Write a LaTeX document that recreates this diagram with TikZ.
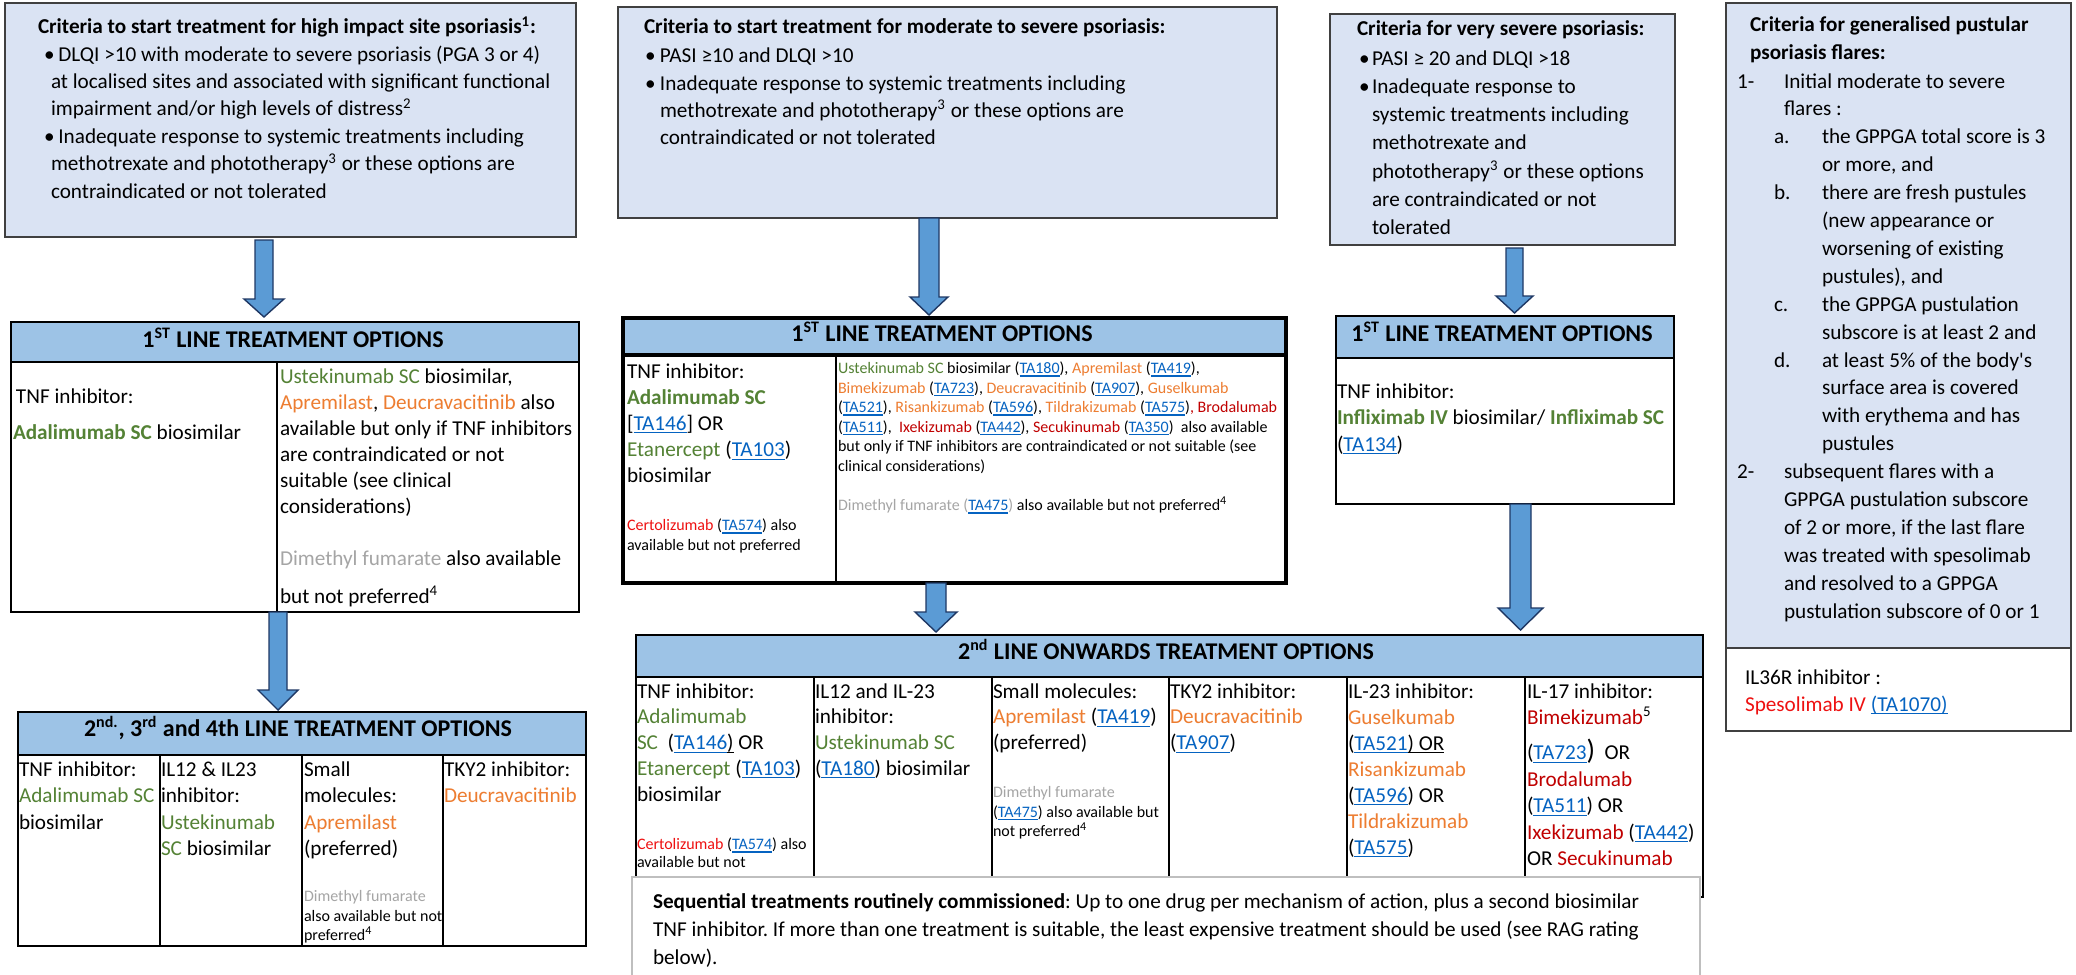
\documentclass[tikz,border=0pt]{standalone}
\usepackage{fontspec}
\setmainfont{Carlito}
\usetikzlibrary{calc}
\definecolor{critfill}{HTML}{DAE3F3}
\definecolor{critdraw}{HTML}{404040}
\definecolor{hdrfill}{HTML}{9DC3E6}
\definecolor{arrfill}{HTML}{5B9BD5}
\definecolor{arrdraw}{HTML}{1F3864}
\definecolor{cgreen}{HTML}{548235}
\definecolor{corange}{HTML}{ED7D31}
\definecolor{cred}{HTML}{C00000}
\definecolor{cbred}{HTML}{EE1111}
\definecolor{cgray}{HTML}{A5A5A5}
\definecolor{clink}{HTML}{0563C1}
\definecolor{seqdraw}{HTML}{BFBFBF}
\newcommand\myul[1]{\setbox0\hbox{#1}\rlap{\rule[-1.5pt]{\wd0}{0.55pt}}\box0\relax}
\newcommand\lnk[1]{{\color{clink}\myul{#1}}}
\newcommand\tgreen[1]{\textcolor{cgreen}{#1}}
\newcommand\tgreenb[1]{\textcolor{cgreen}{\bfseries #1}}
\newcommand\torange[1]{\textcolor{corange}{#1}}
\newcommand\tred[1]{\textcolor{cred}{#1}}
\newcommand\tbred[1]{\textcolor{cbred}{#1}}
\newcommand\tgray[1]{\textcolor{cgray}{#1}}
\newcommand\sups[1]{\textsuperscript{#1}}
\newcommand\fcrit[1]{\fontsize{10.6pt}{#1}\selectfont}
\newcommand\fsml[1]{\fontsize{8pt}{#1}\selectfont}
\newcommand\fl{\rule{0pt}{9pt}}
\newcommand\fls{\rule{0pt}{7pt}}
\newcommand\bulA{\makebox[7.2pt][l]{\textbullet}}
\newcommand\bulB{\makebox[7.5pt][l]{\textbullet}}
\newcommand\bulC{\makebox[6.5pt][l]{\textbullet}}
\newcommand\bx[6]{\node[#6, anchor=north west, inner sep=0pt, outer sep=0pt, minimum width={(#4-#2)*0.5pt}, minimum height={(#5-#3)*0.5pt}] (#1) at (#2,#3) {};}
% block arrow: x, src, tgt, head length, shaft half, head half, gap top, gap tip
\newcommand\barr[8]{%
 \path[barrow] let \p1=(#2.south), \p2=(#3.north) in
  ({(#1-#5)*0.5pt},{\y1-#7*0.5pt}) -- ({(#1+#5)*0.5pt},{\y1-#7*0.5pt}) --
  ({(#1+#5)*0.5pt},{\y2+(#8+#4)*0.5pt}) -- ({(#1+#6)*0.5pt},{\y2+(#8+#4)*0.5pt}) --
  ({#1*0.5pt},{\y2+#8*0.5pt}) --
  ({(#1-#6)*0.5pt},{\y2+(#8+#4)*0.5pt}) -- ({(#1-#5)*0.5pt},{\y2+(#8+#4)*0.5pt}) -- cycle;}
\tikzset{
 crit/.style={draw=critdraw, fill=critfill, line width=0.8pt},
 wbox/.style={draw=critdraw, fill=white, line width=0.8pt},
 tbl/.style={draw=black, fill=white, line width=1.1pt},
 hdr/.style={draw=black, fill=hdrfill, line width=1.1pt},
 tblk/.style={draw=black, fill=white, line width=1.6pt},
 hdrk/.style={draw=black, fill=hdrfill, line width=1.6pt},
 seqbox/.style={draw=seqdraw, fill=white, line width=0.8pt},
 div/.style={line width=1pt},
 divk/.style={line width=1.3pt},
 txt/.style={anchor=north west, inner sep=0pt, outer sep=0pt, align=left},
 bl/.style={anchor=base west, inner sep=0pt, outer sep=0pt},
 htxt/.style={anchor=base, inner sep=0pt, font=\fontsize{12pt}{14pt}\selectfont\bfseries},
 barrow/.style={fill=arrfill, draw=arrdraw, line width=0.7pt, line join=miter},
}
\begin{document}
\frenchspacing
\begin{tikzpicture}[x=0.5pt,y=-0.5pt]
\useasboundingbox (0,0) rectangle (2076,974);
\fill[white] (0,0) rectangle (2076,974);

% ---------- criteria box 1
\bx{b1}{5}{3}{576}{237}{crit}
\node[txt,font=\fcrit{13.75pt}\bfseries] (b1t) at (38,16) {\fl Criteria to start treatment for high impact site psoriasis\sups{1}:};
\node[txt,font=\fcrit{13.75pt}] (b1l) at (44,43) {\fl\bulA DLQI >10 with moderate to severe psoriasis (PGA 3 or 4)\\
\hspace*{3.5pt}at localised sites and associated with significant functional\\
\hspace*{3.5pt}impairment and/or high levels of distress\sups{2}\\
\bulA Inadequate response to systemic treatments including\\
\hspace*{3.5pt}methotrexate and phototherapy\sups{3} or these options are\\
\hspace*{3.5pt}contraindicated or not tolerated};

% ---------- criteria box 2
\bx{b2}{618}{7}{1277}{218}{crit}
\node[txt,font=\fcrit{13.6pt}\bfseries] (b2t) at (644,16) {\fl Criteria to start treatment for moderate to severe psoriasis:};
\node[txt,font=\fcrit{13.6pt}] (b2l) at (645,45) {\fl\bulB PASI ≥10 and DLQI >10\\
\bulB Inadequate response to systemic treatments including\\
\hspace*{7.5pt}methotrexate and phototherapy\sups{3} or these options are\\
\hspace*{7.5pt}contraindicated or not tolerated};

% ---------- criteria box 3
\bx{b3}{1330}{14}{1675}{245}{crit}
\node[txt,font=\fcrit{14.15pt}\bfseries] (b3t) at (1357,17.5) {\fl Criteria for very severe psoriasis:};
\node[txt,font=\fcrit{14.15pt}] (b3l) at (1359,47) {\fl\bulC PASI ≥ 20 and DLQI >18\\
\bulC Inadequate response to\\
\hspace*{6.5pt}systemic treatments including\\
\hspace*{6.5pt}methotrexate and\\
\hspace*{6.5pt}phototherapy\sups{3} or these options\\
\hspace*{6.5pt}are contraindicated or not\\
\hspace*{6.5pt}tolerated};

% ---------- GPP box
\bx{b4}{1726}{3}{2071}{648}{crit}
\node[txt,font=\fcrit{13.95pt}\bfseries] (b4t) at (1750,14) {\fl Criteria for generalised pustular\\ psoriasis flares:};
\node[txt,font=\fcrit{13.95pt}] (b4l) at (1737,70) {\fl\makebox[23.5pt][l]{1-}Initial moderate to severe\\
\hspace*{23.5pt}flares :\\
\hspace*{18.5pt}\makebox[24pt][l]{a.}the GPPGA total score is 3\\
\hspace*{42.5pt}or more, and\\
\hspace*{18.5pt}\makebox[24pt][l]{b.}there are fresh pustules\\
\hspace*{42.5pt}(new appearance or\\
\hspace*{42.5pt}worsening of existing\\
\hspace*{42.5pt}pustules), and\\
\hspace*{18.5pt}\makebox[24pt][l]{c.}the GPPGA pustulation\\
\hspace*{42.5pt}subscore is at least 2 and\\
\hspace*{18.5pt}\makebox[24pt][l]{d.}at least 5\% of the body\textquotesingle s\\
\hspace*{42.5pt}surface area is covered\\
\hspace*{42.5pt}with erythema and has\\
\hspace*{42.5pt}pustules\\
\makebox[23.5pt][l]{2-}subsequent flares with a\\
\hspace*{23.5pt}GPPGA pustulation subscore\\
\hspace*{23.5pt}of 2 or more, if the last flare\\
\hspace*{23.5pt}was treated with spesolimab\\
\hspace*{23.5pt}and resolved to a GPPGA\\
\hspace*{23.5pt}pustulation subscore of 0 or 1};
\bx{b4w}{1726}{648}{2071}{731}{wbox}
\node[txt,font=\fcrit{13.5pt}] (b4wt) at (1745,666) {\fl IL36R inhibitor :\\ \tbred{Spesolimab IV} \lnk{(TA1070)}};

% ---------- left 1st line
\bx{t1}{11}{322}{579}{612}{tbl}
\bx{t1h}{11}{322}{579}{362}{hdr}
\draw[div] (277,362) -- (277,612);
\node[htxt] (t1ht) at (293,347) {1\sups{ST} LINE TREATMENT OPTIONS};
\node[bl,font=\fcrit{13pt}] (t1a) at (16,403) {TNF inhibitor:};
\node[bl,font=\fcrit{13pt}] (t1b) at (13,439) {\tgreenb{Adalimumab SC} biosimilar};
\node[txt,font=\fcrit{13pt}] (t1c) at (280,365) {\fl\tgreen{Ustekinumab SC} biosimilar,\\
\torange{Apremilast}, \torange{Deucravacitinib} also\\
available but only if TNF inhibitors\\
are contraindicated or not\\
suitable (see clinical\\
considerations)};
\node[txt,font=\fcrit{19pt}] (t1d) at (280,547) {\fl\tgray{Dimethyl fumarate} also available\\ but not preferred\sups{4}};

% ---------- middle 1st line
\bx{tm}{623}{318}{1286}{583}{tblk}
\bx{tmh}{623}{318}{1286}{355}{hdrk}
\draw[divk] (836,355) -- (836,583);
\node[htxt] (tmht) at (942,341) {1\sups{ST} LINE TREATMENT OPTIONS};
\node[txt,font=\fcrit{13.1pt}] (tma) at (627,360) {\fl TNF inhibitor:\\
\tgreenb{Adalimumab SC}\\
{[}\lnk{TA146}{]} OR\\
\tgreen{Etanercept} (\lnk{TA103})\\
biosimilar};
\node[txt,font=\fsml{9.75pt}] (tmb) at (627,516.5) {\fls\tbred{Certolizumab} (\lnk{TA574}) also\\ available but not preferred};
\node[txt,font=\fsml{9.75pt}] (tmc) at (838,359.5) {\fls\tgreen{Ustekinumab SC} biosimilar (\lnk{TA180}), \torange{Apremilast} (\lnk{TA419}),\\
\torange{Bimekizumab} (\lnk{TA723}), \torange{Deucravacitinib} (\lnk{TA907}), \torange{Guselkumab}\\
(\lnk{TA521}), \torange{Risankizumab} (\lnk{TA596}), \torange{Tildrakizumab} (\lnk{TA575})\tred{, Brodalumab}\\
(\lnk{TA511}), \ \tred{Ixekizumab} (\lnk{TA442}), \tred{Secukinumab} (\lnk{TA350}) \ also available\\
but only if TNF inhibitors are contraindicated or not suitable (see\\
clinical considerations)};
\node[bl,font=\fsml{9.75pt}] (tmd) at (838,510.5) {\tgray{Dimethyl fumarate (}\lnk{TA475}\tgray{)} also available but not preferred\sups{4}};

% ---------- right 1st line
\bx{tr}{1336}{316}{1674}{504}{tbl}
\bx{trh}{1336}{316}{1674}{358}{hdr}
\node[htxt] (trht) at (1502,341) {1\sups{ST} LINE TREATMENT OPTIONS};
\node[txt,font=\fcrit{13.25pt}] (tra) at (1337,380) {\fl TNF inhibitor:\\
\tgreenb{Infliximab IV} biosimilar/ \tgreenb{Infliximab SC}\\
(\lnk{TA134})};

% ---------- 2nd line onwards
\bx{t2}{636}{635}{1703}{897}{tbl}
\bx{t2h}{636}{635}{1703}{677}{hdr}
\foreach \xx in {814,992,1169,1347,1525} {\draw[div] (\xx,677) -- (\xx,897);}
\node[htxt] (t2ht) at (1166,659) {2\sups{nd} LINE ONWARDS TREATMENT OPTIONS};
\node[txt,font=\fcrit{12.9pt}] (t2a) at (637,680) {\fl TNF inhibitor:\\
\tgreen{Adalimumab}\\
\tgreen{SC} \ (\lnk{TA146}\myul{)} OR\\
\tgreen{Etanercept} (\lnk{TA103})\\
biosimilar};
\node[txt,font=\fsml{9pt}] (t2b) at (637,835.5) {\fls\tbred{Certolizumab} (\lnk{TA574}) also\\ available but not};
\node[txt,font=\fcrit{12.9pt}] (t2c) at (815,680) {\fl IL12 and IL-23\\
inhibitor:\\
\tgreen{Ustekinumab SC}\\
(\lnk{TA180}) biosimilar};
\node[txt,font=\fcrit{12.9pt}] (t2d) at (993,680) {\fl Small molecules:\\
\torange{Apremilast} (\lnk{TA419})\\
(preferred)};
\node[txt,font=\fsml{9.75pt}] (t2e) at (993,783.5) {\fls\tgray{Dimethyl fumarate}\\ (\lnk{TA475}) also available but\\ not preferred\sups{4}};
\node[txt,font=\fcrit{12.9pt}] (t2f) at (1170,680) {\fl TKY2 inhibitor:\\
\torange{Deucravacitinib}\\
(\lnk{TA907})};
\node[txt,font=\fcrit{13pt}] (t2g) at (1348,680) {\fl IL-23 inhibitor:\\
\torange{Guselkumab}\\
(\lnk{TA521}\myul{) OR}\\
\torange{Risankizumab}\\
(\lnk{TA596}) OR\\
\torange{Tildrakizumab}\\
(\lnk{TA575})};
\node[txt,font=\fcrit{13.2pt}] (t2h2) at (1527,680) {\fl IL-17 inhibitor:\\
\tred{Bimekizumab}\sups{5}\\[4.5pt]
(\lnk{TA723}{\fontsize{14pt}{14pt}\selectfont)}\ \ OR\\
\tred{Brodalumab}\\
(\lnk{TA511}) OR\\
\tred{Ixekizumab} (\lnk{TA442})\\
OR \tred{Secukinumab}};

% ---------- sequential box
\bx{seq}{632}{877}{1700}{990}{seqbox}
\node[txt,font=\fcrit{14pt}] (seqt) at (653,890) {\fl\textbf{Sequential treatments routinely commissioned}: Up to one drug per mechanism of action, plus a second biosimilar\\
TNF inhibitor. If more than one treatment is suitable, the least expensive treatment should be used (see RAG rating\\
below).};

% ---------- 2nd 3rd 4th line
\bx{t3}{18}{712}{586}{946}{tbl}
\bx{t3h}{18}{712}{586}{755}{hdr}
\foreach \xx in {160,302,443} {\draw[div] (\xx,755) -- (\xx,946);}
\node[htxt] (t3ht) at (298,736) {2\sups{nd.}, 3\sups{rd} and 4th LINE TREATMENT OPTIONS};
\node[txt,font=\fcrit{13.25pt}] (t3a) at (19,758) {\fl TNF inhibitor:\\ \tgreen{Adalimumab SC}\\ biosimilar};
\node[txt,font=\fcrit{13.25pt}] (t3b) at (161,758) {\fl IL12 \& IL23\\ inhibitor:\\ \tgreen{Ustekinumab}\\ \tgreen{SC} biosimilar};
\node[txt,font=\fcrit{13.25pt}] (t3c) at (304,758) {\fl Small\\ molecules:\\ \torange{Apremilast}\\ (preferred)};
\node[txt,font=\fsml{9.75pt}] (t3d) at (304,887.5) {\fls\tgray{Dimethyl fumarate}\\ also available but not\\ preferred\sups{4}};
\node[txt,font=\fcrit{13.25pt}] (t3e) at (444,758) {\fl TKY2 inhibitor:\\ \torange{Deucravacitinib}};

% ---------- arrows
\barr{264}{b1}{t1}{18}{9}{20}{3}{5}
\barr{278}{t1}{t3}{20}{9}{20}{0}{2}
\barr{929}{b2}{tm}{18}{10}{19}{0}{3}
\barr{936}{tm}{t2}{20}{10}{21}{0}{3}
\barr{1514.5}{b3}{tr}{17}{8.5}{18.5}{3}{3}
\barr{1520.5}{tr}{t2}{22}{10.5}{22.5}{0}{5}
\end{tikzpicture}
\end{document}
